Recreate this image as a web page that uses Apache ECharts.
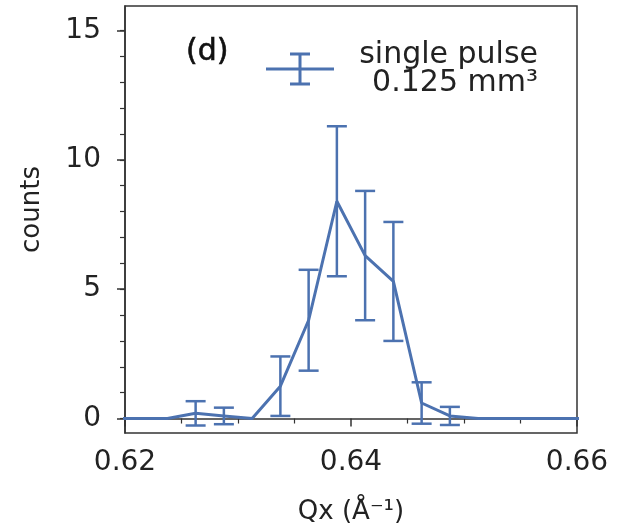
<!DOCTYPE html>
<html>
<head>
    <meta charset="UTF-8">
    <title>single pulse</title>
    <script src="https://cdn.jsdelivr.net/npm/echarts@6/dist/echarts.min.js"></script>
    <style type="text/css">
        html, body, #main {
            height: 100%;
            width: 100%;
            margin: 0;
            padding: 0;
            background: #fff;
        }
    </style>
</head>
<body>
<div id="main"></div>
<script type="text/javascript">
    // 数据
    var qx = [0.61875, 0.62125, 0.62375, 0.62625, 0.62875, 0.63125, 0.63375, 0.63625, 0.63875,
        0.64125, 0.64375, 0.64625, 0.64875, 0.65125, 0.65375, 0.65625, 0.65875, 0.66125];
    var counts = [0, 0, 0, 0.2, 0.1, 0, 1.25, 3.8, 8.4, 6.3, 5.3, 0.6, 0.1, 0, 0, 0, 0, 0];
    // 误差棒：x, 中心值, 误差
    var errX = [0.62625, 0.62875, 0.63375, 0.63625, 0.63875, 0.64125, 0.64375, 0.64625, 0.64875];
    var errY = [0.2, 0.1, 1.25, 3.8, 8.4, 6.3, 5.3, 0.6, 0.1];
    var errV = [0.47, 0.32, 1.15, 1.95, 2.9, 2.5, 2.3, 0.8, 0.35];
    var xTicks = [0.62, 0.64, 0.66];
    var yTicks = [0, 5, 10, 15];
    var yMinor = [0, 1, 2, 3, 4, 5, 6, 7, 8, 9, 10, 11, 12, 13, 14, 15];

    var color = '#4c72b0';
    var axisColor = '#333';
    var font = 'DejaVu Sans';

    var lineData = qx.map(function (x, i) { return [x, counts[i]]; });
    var errData = errX.map(function (x, i) { return [x, errY[i], errV[i]]; });

    var mycharts = echarts.init(document.getElementById('main'));
    var option = {
        animation: false,
        title: {
            text: '(d)',
            left: 181,
            top: 32,
            textStyle: {fontFamily: font, fontSize: 30, fontWeight: 'normal', color: '#111',
                textBorderColor: '#111', textBorderWidth: 0.6}
        },
        legend: {
            left: 261,
            top: 35,
            itemWidth: 68,
            itemHeight: 33,
            data: [{
                name: 'single pulse',
                icon: 'path://M0,15 h68 v3 h-68 Z M32.5,0 h3 v33 h-3 Z M24,0 h20 v3 h-20 Z M24,30 h20 v3 h-20 Z'
            }],
            formatter: function () {
                return '{a|single pulse}\n{a|0.125 mm³}';
            },
            textStyle: {
                fontFamily: font,
                color: '#222',
                rich: {
                    a: {fontFamily: font, fontSize: 30, lineHeight: 28, width: 199, align: 'right', color: '#222'}
                }
            }
        },
        grid: {
            left: 125,
            right: 54,
            top: 6,
            bottom: 95,
            outerBoundsMode: 'none',
            show: true,
            borderColor: axisColor,
            borderWidth: 1.5
        },
        xAxis: {
            type: 'value',
            min: 0.62,
            max: 0.66,
            interval: 0.02,
            name: 'Qx (Å⁻¹)',
            nameLocation: 'middle',
            nameGap: 66,
            nameTextStyle: {fontFamily: font, fontSize: 26, color: '#222'},
            splitLine: {show: false},
            axisLine: {lineStyle: {color: axisColor, width: 1.5}},
            axisTick: {length: 8, lineStyle: {color: axisColor, width: 1.5}},
            minorTick: {show: true, splitNumber: 4, length: 5, lineStyle: {color: axisColor, width: 1.2}},
            axisLabel: {
                fontFamily: font, fontSize: 28, color: '#222', margin: 16,
                customValues: xTicks,
                formatter: function (v) { return v.toFixed(2); }
            }
        },
        yAxis: [{
            type: 'value',
            min: -0.56,
            max: 15.95,
            name: 'counts',
            nameLocation: 'middle',
            nameGap: 80,
            nameTextStyle: {fontFamily: font, fontSize: 26, color: '#222', padding: [0, 0, 0, 20]},
            splitLine: {show: false},
            axisLine: {lineStyle: {color: axisColor, width: 1.5}},
            axisTick: {customValues: yTicks, length: 8, lineStyle: {color: axisColor, width: 1.5}},
            axisLabel: {fontFamily: font, fontSize: 28, color: '#222', margin: 24, customValues: yTicks}
        }, {
            type: 'value',
            min: -0.56,
            max: 15.95,
            position: 'left',
            splitLine: {show: false},
            axisLine: {show: false},
            axisTick: {customValues: yMinor, length: 5, lineStyle: {color: axisColor, width: 1.2}},
            axisLabel: {show: false}
        }],
        series: [{
            name: 'single pulse',
            type: 'line',
            data: lineData,
            symbol: 'none',
            clip: true,
            itemStyle: {color: color},
            lineStyle: {color: color, width: 3}
        }, {
            name: 'single pulse',
            type: 'custom',
            data: errData,
            clip: true,
            itemStyle: {color: color},
            renderItem: function (params, api) {
                var x = api.value(0), y = api.value(1), e = api.value(2);
                var top = api.coord([x, y + e]);
                var bot = api.coord([x, y - e]);
                var hw = 10;
                var style = {stroke: color, lineWidth: 2.5, fill: null};
                return {
                    type: 'group',
                    children: [
                        {type: 'line', shape: {x1: top[0], y1: top[1], x2: bot[0], y2: bot[1]}, style: style},
                        {type: 'line', shape: {x1: top[0] - hw, y1: top[1], x2: top[0] + hw, y2: top[1]}, style: style},
                        {type: 'line', shape: {x1: bot[0] - hw, y1: bot[1], x2: bot[0] + hw, y2: bot[1]}, style: style}
                    ]
                };
            }
        }]
    };
    mycharts.setOption(option);
</script>
</body>
</html>
